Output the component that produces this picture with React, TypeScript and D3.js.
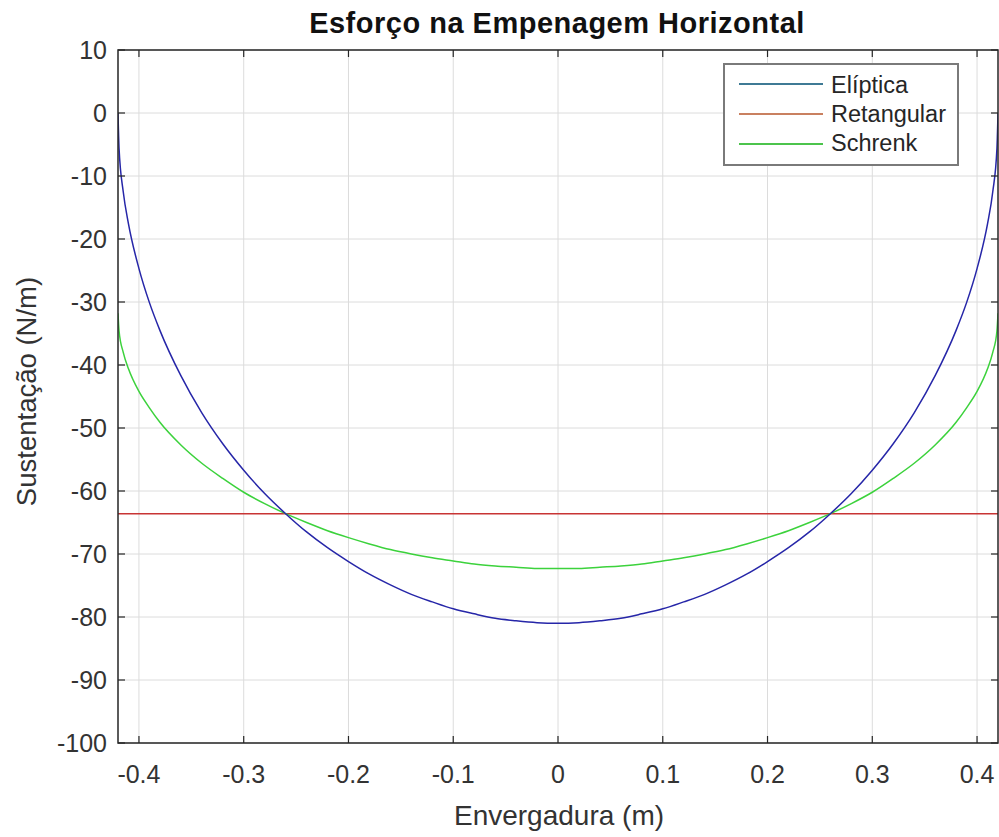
import React from "react";
import * as d3 from "d3";

const spanX = [-0.42, -0.419, -0.415, -0.41, -0.4, -0.39, -0.38, -0.36, -0.34, -0.32, -0.3, -0.28, -0.26, -0.24, -0.22, -0.2, -0.18, -0.16, -0.14, -0.12, -0.1, -0.08, -0.06, -0.04, -0.02, 0, 0.02, 0.04, 0.06, 0.08, 0.1, 0.12, 0.14, 0.16, 0.18, 0.2, 0.22, 0.24, 0.26, 0.28, 0.3, 0.32, 0.34, 0.36, 0.38, 0.39, 0.4, 0.41, 0.415, 0.419, 0.42];
const eliptica = [0, -5.6, -12.5, -17.6, -24.7, -30.1, -34.5, -41.7, -47.6, -52.5, -56.7, -60.4, -63.6, -66.5, -69.0, -71.2, -73.2, -74.9, -76.4, -77.6, -78.7, -79.5, -80.2, -80.6, -80.9, -81.0, -80.9, -80.6, -80.2, -79.5, -78.7, -77.6, -76.4, -74.9, -73.2, -71.2, -69.0, -66.5, -63.6, -60.4, -56.7, -52.5, -47.6, -41.7, -34.5, -30.1, -24.7, -17.6, -12.5, -5.6, 0];
const retangular = [-63.6, -63.6];
const retangularX = [-0.42, 0.42];
const schrenk = [-31.8, -34.6, -38.0, -40.6, -44.2, -46.8, -49.1, -52.7, -55.6, -58.0, -60.2, -62.0, -63.6, -65.0, -66.3, -67.4, -68.4, -69.3, -70.0, -70.6, -71.1, -71.6, -71.9, -72.1, -72.3, -72.3, -72.3, -72.1, -71.9, -71.6, -71.1, -70.6, -70.0, -69.3, -68.4, -67.4, -66.3, -65.0, -63.6, -62.0, -60.2, -58.0, -55.6, -52.7, -49.1, -46.8, -44.2, -40.6, -38.0, -34.6, -31.8];
const xTicks = [-0.4, -0.3, -0.2, -0.1, 0, 0.1, 0.2, 0.3, 0.4];
const yTicks = [10, 0, -10, -20, -30, -40, -50, -60, -70, -80, -90, -100];
const legendNames = ["Elíptica", "Retangular", "Schrenk"];

const W = 999, H = 837;
const L = 118, R = 998, T = 50, B = 743;
const FONT = "'Liberation Sans', Arial, Helvetica, sans-serif";

export default function App() {
  const x = d3.scaleLinear().domain([-0.42, 0.42]).range([L, R]);
  const y = d3.scaleLinear().domain([-100, 10]).range([B, T]);
  const line = d3.line<[number, number]>().x(d => x(d[0])).y(d => y(d[1])).curve(d3.curveMonotoneX);
  const ell = line(spanX.map((v, i) => [v, eliptica[i]]))!;
  const sch = line(spanX.map((v, i) => [v, schrenk[i]]))!;
  const ret = line(retangularX.map((v, i) => [v, retangular[i]]))!;
  const fmtX = (v: number) => (v === 0 ? "0" : d3.format(".1f")(v).replace("−", "-"));
  const legendColors = ["#3f7a95", "#c98060", "#4cc44c"];
  const legX = 724, legY = 64, legW = 234, legH = 101;
  return (
    <svg width={W} height={H} style={{ position: "absolute", left: 0, top: 0, background: "#fff" }} fontFamily={FONT}>
      <rect x={0} y={0} width={W} height={H} fill="#fff" />
      <defs>
        <clipPath id="plotclip"><rect x={L} y={T} width={R - L} height={B - T} /></clipPath>
      </defs>
      {/* grid */}
      {xTicks.map(t => (
        <line key={"gx" + t} x1={x(t)} x2={x(t)} y1={T} y2={B} stroke="#dcdcdc" strokeWidth={1} />
      ))}
      {yTicks.map(t => (
        <line key={"gy" + t} x1={L} x2={R} y1={y(t)} y2={y(t)} stroke="#dcdcdc" strokeWidth={1} />
      ))}
      {/* lines */}
      <g clipPath="url(#plotclip)" fill="none">
        <path d={ret} stroke="#c83434" strokeWidth={1.4} />
        <path d={sch} stroke="#3cd23c" strokeWidth={1.5} />
        <path d={ell} stroke="#2626a8" strokeWidth={1.5} />
      </g>
      {/* ticks */}
      {xTicks.map(t => (
        <g key={"tx" + t}>
          <line x1={x(t)} x2={x(t)} y1={B} y2={B - 7} stroke="#262626" strokeWidth={1.2} />
          <line x1={x(t)} x2={x(t)} y1={T} y2={T + 7} stroke="#262626" strokeWidth={1.2} />
          <text x={x(t)} y={783} textAnchor="middle" fontSize={25} fill="#333">{fmtX(t)}</text>
        </g>
      ))}
      {yTicks.map(t => (
        <g key={"ty" + t}>
          <line x1={L} x2={L + 7} y1={y(t)} y2={y(t)} stroke="#262626" strokeWidth={1.2} />
          <line x1={R} x2={R - 7} y1={y(t)} y2={y(t)} stroke="#262626" strokeWidth={1.2} />
          <text x={107} y={y(t) + 9} textAnchor="end" fontSize={25} fill="#333">{String(t)}</text>
        </g>
      ))}
      {/* box */}
      <rect x={L} y={T} width={R - L} height={B - T} fill="none" stroke="#262626" strokeWidth={1.5} />
      {/* title & labels */}
      <text x={557} y={33} textAnchor="middle" fontSize={29} letterSpacing={0.5} fontWeight="bold" fill="#111">Esforço na Empenagem Horizontal</text>
      <text x={559} y={825} textAnchor="middle" fontSize={28} fill="#333">Envergadura (m)</text>
      <text transform={`translate(36, ${(270 + 513) / 2}) rotate(-90)`} textAnchor="middle" fontSize={27.5} fill="#333">Sustentação (N/m)</text>
      {/* legend */}
      <rect x={legX} y={legY} width={legW} height={legH} fill="#fff" stroke="#7a7a7a" strokeWidth={2} />
      {legendNames.map((n, i) => (
        <g key={n}>
          <line x1={739} x2={823} y1={84 + i * 30} y2={84 + i * 30} stroke={legendColors[i]} strokeWidth={1.8} />
          <text x={831} y={93 + i * 29} fontSize={23.5} fill="#262626">{n}</text>
        </g>
      ))}
    </svg>
  );
}
